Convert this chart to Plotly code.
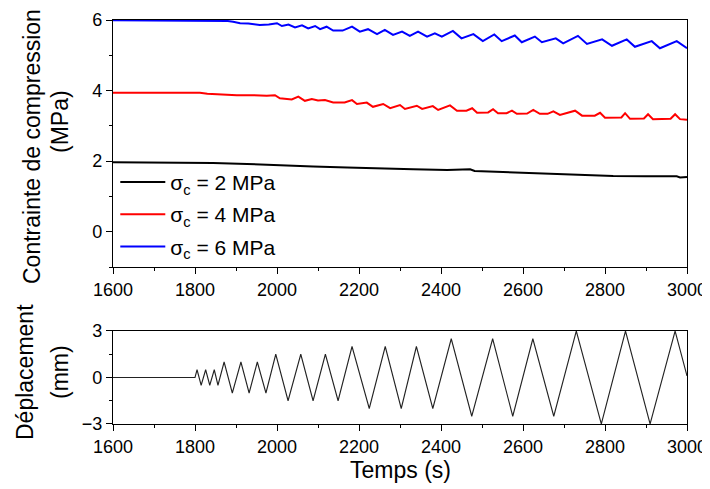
import plotly.graph_objects as go

# stress curves (MPa) vs time (s)
t_sig2 = [1600, 1810, 1844, 1927, 2007, 2088, 2171, 2251, 2332, 2415, 2462, 2471, 2482,
          2576, 2659, 2739, 2820, 2900, 2975, 2983, 3000]
v_sig2 = [1.97, 1.97, 1.95, 1.92, 1.88, 1.85, 1.82, 1.79, 1.77, 1.75, 1.75, 1.77, 1.72,
          1.68, 1.64, 1.61, 1.58, 1.57, 1.57, 1.54, 1.55]

t_sig4 = [1600, 1812, 1830, 1860, 1902, 1940, 1975, 1995, 2007, 2036, 2052, 2068, 2085,
          2100, 2117, 2137, 2165, 2183, 2195, 2219, 2234, 2259, 2276, 2300, 2312, 2341,
          2354, 2380, 2393, 2422, 2439, 2462, 2476, 2488, 2515, 2527, 2539, 2560, 2573,
          2585, 2610, 2625, 2641, 2660, 2674, 2690, 2727, 2744, 2775, 2788, 2800, 2840,
          2849, 2861, 2895, 2905, 2917, 2960, 2971, 2983, 3000]
v_sig4 = [3.94, 3.94, 3.91, 3.89, 3.87, 3.87, 3.85, 3.87, 3.78, 3.75, 3.83, 3.71, 3.76,
          3.72, 3.73, 3.66, 3.66, 3.73, 3.62, 3.66, 3.54, 3.62, 3.50, 3.59, 3.48, 3.57,
          3.48, 3.56, 3.45, 3.58, 3.43, 3.43, 3.50, 3.37, 3.38, 3.47, 3.36, 3.36, 3.43,
          3.34, 3.35, 3.45, 3.34, 3.34, 3.41, 3.31, 3.43, 3.29, 3.29, 3.37, 3.23, 3.24,
          3.36, 3.20, 3.21, 3.33, 3.19, 3.20, 3.33, 3.19, 3.17]

t_sig6 = [1600, 1870, 1880, 1893, 1910, 1930, 1958, 1980, 2000, 2012, 2028, 2044, 2061,
          2076, 2093, 2105, 2121, 2137, 2160, 2183, 2202, 2222, 2244, 2263, 2283, 2305,
          2324, 2344, 2366, 2385, 2402, 2429, 2450, 2479, 2502, 2530, 2548, 2580, 2597,
          2629, 2646, 2680, 2698, 2734, 2756, 2793, 2817, 2853, 2873, 2914, 2934, 2975,
          2995, 3000]
v_sig6 = [5.99, 5.99, 5.97, 5.95, 5.91, 5.90, 5.86, 5.87, 5.91, 5.83, 5.87, 5.79, 5.85,
          5.76, 5.83, 5.74, 5.81, 5.70, 5.70, 5.81, 5.67, 5.74, 5.60, 5.72, 5.58, 5.67,
          5.55, 5.67, 5.53, 5.62, 5.53, 5.69, 5.48, 5.60, 5.40, 5.59, 5.40, 5.56, 5.37,
          5.53, 5.37, 5.48, 5.34, 5.55, 5.32, 5.45, 5.27, 5.45, 5.24, 5.40, 5.20, 5.40,
          5.22, 5.20]

# imposed displacement (mm)
t_disp = [1600, 1800, 1805, 1815, 1826, 1836, 1847, 1856, 1871, 1891, 1912, 1932, 1952,
          1973, 1997, 2027, 2058, 2088, 2118, 2149, 2183, 2225, 2264, 2303, 2340, 2380,
          2425, 2475, 2526, 2575, 2624, 2675, 2730, 2791, 2850, 2910, 2971, 3000]
v_disp = [0, 0, 0.5, -0.5, 0.5, -0.5, 0.5, -0.5, 1, -1, 1, -1, 1,
          -1, 1.5, -1.5, 1.5, -1.5, 1.5, -1.5, 2, -2, 2, -2, 2, -2,
          2.5, -2.5, 2.5, -2.5, 2.5, -2.5, 3, -3, 3, -3, 3, 0.1]

names = ["σ<sub>c</sub> = 2 MPa", "σ<sub>c</sub> = 4 MPa", "σ<sub>c</sub> = 6 MPa"]
colors = ["#000000", "#ff0000", "#0000ff"]

FONT = "Liberation Sans, Arial, sans-serif"

fig = go.Figure()
for i, (t, v, name, c) in enumerate(zip([t_sig2, t_sig4, t_sig6],
                                        [v_sig2, v_sig4, v_sig6], names, colors)):
    fig.add_trace(go.Scatter(x=t, y=v, mode="lines", name=name, legendgroup="g%d" % i,
                             line=dict(color=c, width=2), xaxis="x", yaxis="y"))

fig.add_trace(go.Scatter(x=t_disp, y=v_disp, mode="lines", showlegend=False,
                         line=dict(color="#222222", width=1.1), xaxis="x2", yaxis="y2"))

axis_common = dict(showline=True, linecolor="black", linewidth=1.3, mirror=True,
                   ticks="outside", ticklen=6, tickwidth=1.3, tickcolor="black",
                   showgrid=False, zeroline=False, automargin=False,
                   tickfont=dict(family=FONT, size=18, color="black"))
xaxis_common = dict(axis_common, range=[1600, 3000], tick0=1600, dtick=200,
                    minor=dict(dtick=100, tick0=1600, ticks="outside", ticklen=3,
                               tickwidth=1.3, tickcolor="black"))

# the page body adds an 8px offset, so the figure is 8px smaller than the window
fig.update_layout(
    width=702, height=481,
    margin=dict(l=105, r=23, t=12, b=65, autoexpand=False),
    paper_bgcolor="white", plot_bgcolor="white",
    xaxis=dict(xaxis_common, anchor="y"),
    yaxis=dict(axis_common, domain=[0.3886, 1.0], range=[-1, 6],
               tickvals=[0, 2, 4, 6],
               minor=dict(tickvals=[-1, 1, 3, 5], ticks="outside", ticklen=3,
                          tickwidth=1.3, tickcolor="black")),
    xaxis2=dict(xaxis_common, anchor="y2"),
    yaxis2=dict(axis_common, domain=[0, 0.2302], range=[-3, 3],
                tickvals=[-3, 0, 3],
                minor=dict(tickvals=[-1.5, 1.5], ticks="outside", ticklen=3,
                           tickwidth=1.3, tickcolor="black")),
    legend=dict(x=0.004, y=0.649, xanchor="left", yanchor="top",
                traceorder="grouped", tracegroupgap=2,
                bgcolor="rgba(0,0,0,0)", font=dict(family=FONT, size=21, color="black"),
                itemwidth=45),
    showlegend=True,
)

title_font = dict(family=FONT, size=23, color="black")
# axis titles as annotations (page pixels -> paper coords of the plot area)
def px_x(p):
    return (p - 113) / 574.0

def px_y(p):
    return (424 - p) / 404.0

annots = [
    ("Contrainte de compression", 32, 147),
    ("(MPa)", 60, 122),
    ("Déplacement", 25, 372),
    ("(mm)", 60, 372),
]
for txt, xp, yp in annots:
    fig.add_annotation(text=txt, x=px_x(xp), y=px_y(yp), xref="paper", yref="paper",
                       textangle=-90, showarrow=False, font=title_font,
                       xanchor="center", yanchor="middle")
fig.add_annotation(text="Temps (s)", x=px_x(400), y=px_y(470), xref="paper", yref="paper",
                   showarrow=False, font=title_font, xanchor="center", yanchor="middle")

fig.write_html("out.html")
